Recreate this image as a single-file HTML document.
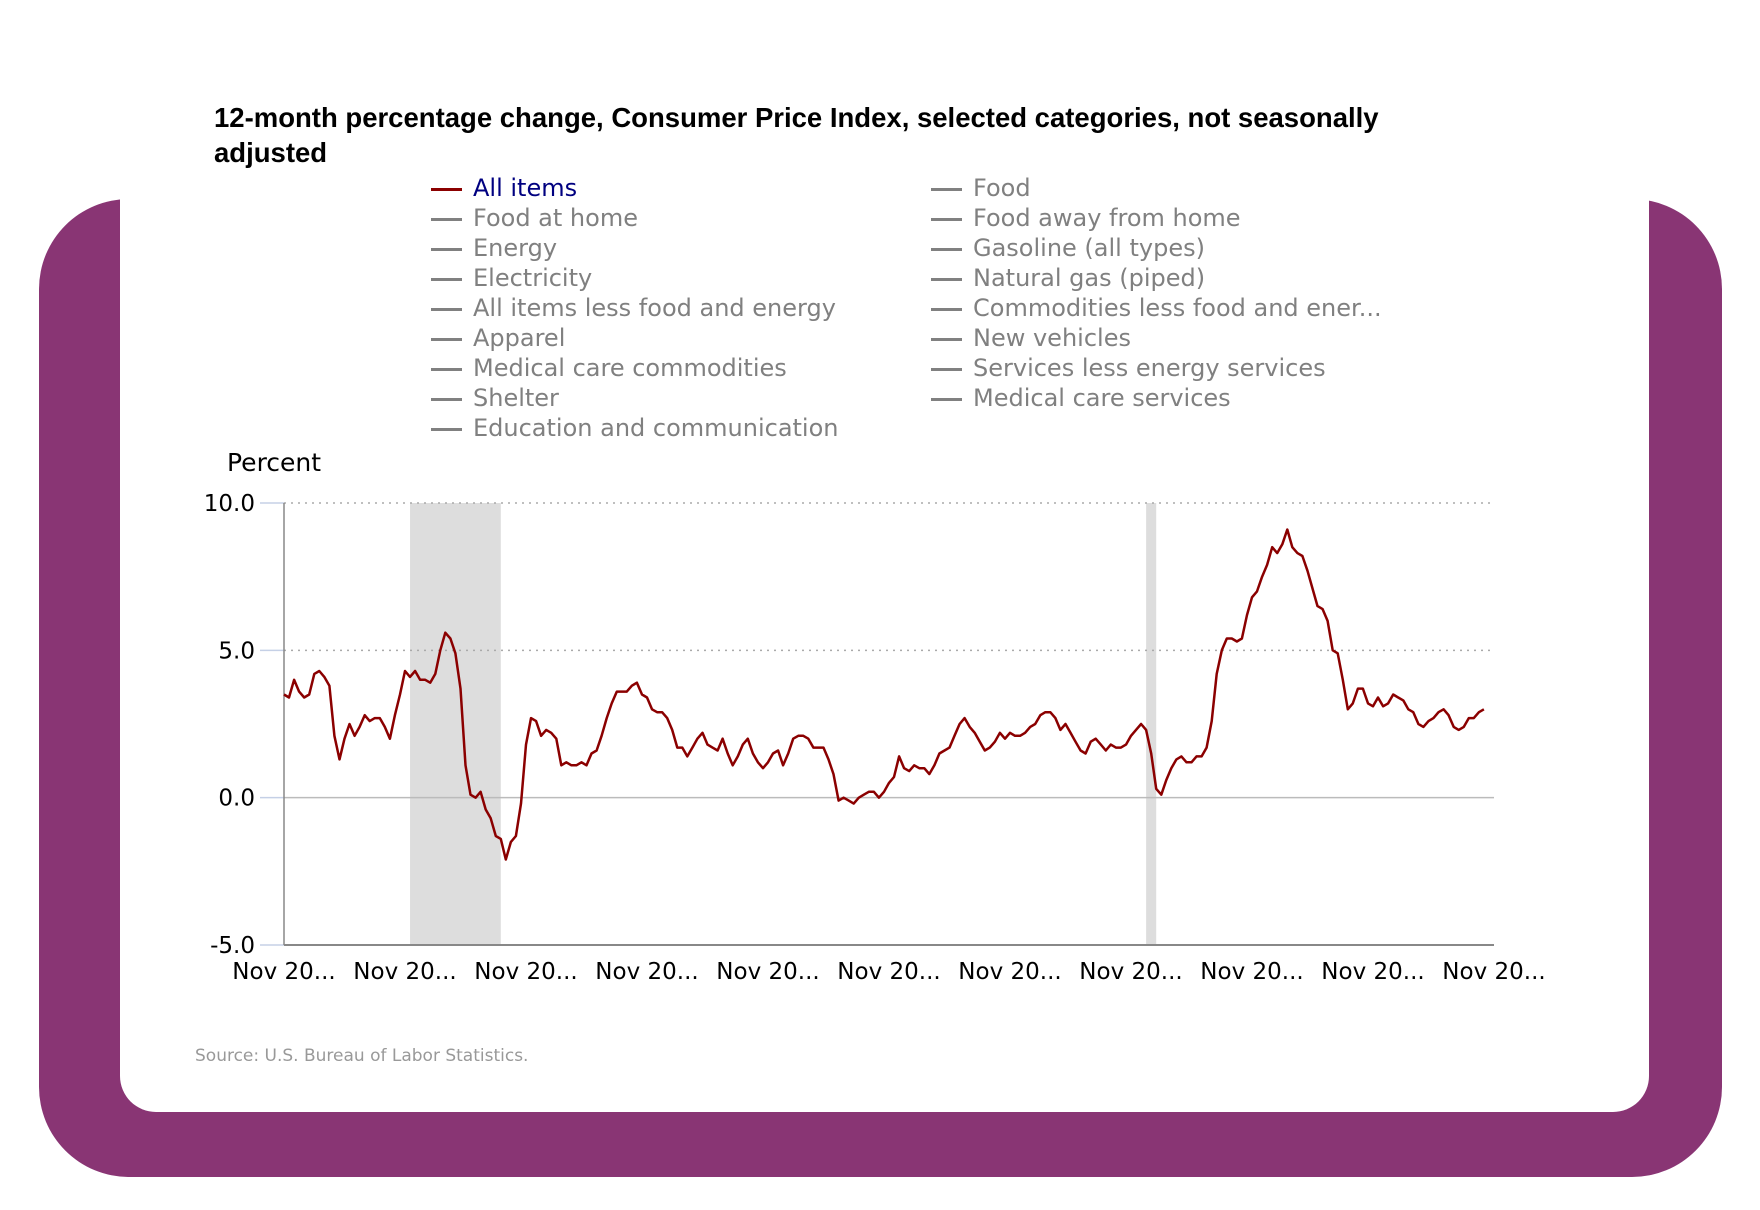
<!DOCTYPE html>
<html><head><meta charset="utf-8"><style>
body{margin:0;width:1760px;height:1210px;background:#fff;position:relative;overflow:hidden;font-family:"DejaVu Sans","Liberation Sans",sans-serif}
#purple{position:absolute;left:39px;top:199px;width:1683px;height:978px;background:#893574;border-radius:90px}
#card{position:absolute;left:120px;top:0;width:1529px;height:1112px;background:#fff;border-radius:0 0 36px 36px}
#title{position:absolute;left:214px;top:100px;width:1250px;font:bold 27.5px/35px "Liberation Sans",sans-serif;color:#000}
.leg{position:absolute;font-size:24px;color:#808080;white-space:nowrap;height:30px;line-height:30px}
.leg span.ln{display:inline-block;width:31px;height:3px;background:#808080;vertical-align:middle;margin-right:11px}
#src{position:absolute;left:195px;top:1046px;font-size:17px;color:#999}
svg{position:absolute;left:0;top:0}
</style></head><body>
<div id="purple"></div>
<div id="card"></div>
<div id="title">12-month percentage change, Consumer Price Index, selected categories, not seasonally adjusted</div>
<div id="legend"></div>
<svg id="chart" width="1760" height="1210"></svg>
<div id="src">Source: U.S. Bureau of Labor Statistics.</div>
<script>
const legendCol1 = ["All items","Food at home","Energy","Electricity","All items less food and energy","Apparel","Medical care commodities","Shelter","Education and communication"];
const legendCol2 = ["Food","Food away from home","Gasoline (all types)","Natural gas (piped)","Commodities less food and ener...","New vehicles","Services less energy services","Medical care services"];
const yTicks = [-5, 0, 5, 10];
const yTickLabels = ["-5.0","0.0","5.0","10.0"];
const xTickLabels = ["Nov 20...","Nov 20...","Nov 20...","Nov 20...","Nov 20...","Nov 20...","Nov 20...","Nov 20...","Nov 20...","Nov 20...","Nov 20..."];
const recessionsMonths = [[25,43],[171,173]];
const allItems = [3.5,3.4,
4.0,3.6,3.4,3.5,4.2,4.3,4.1,3.8,2.1,1.3,2.0,2.5,
2.1,2.4,2.8,2.6,2.7,2.7,2.4,2.0,2.8,3.5,4.3,4.1,
4.3,4.0,4.0,3.9,4.2,5.0,5.6,5.4,4.9,3.7,1.1,0.1,
0.0,0.2,-0.4,-0.7,-1.3,-1.4,-2.1,-1.5,-1.3,-0.2,1.8,2.7,
2.6,2.1,2.3,2.2,2.0,1.1,1.2,1.1,1.1,1.2,1.1,1.5,
1.6,2.1,2.7,3.2,3.6,3.6,3.6,3.8,3.9,3.5,3.4,3.0,
2.9,2.9,2.7,2.3,1.7,1.7,1.4,1.7,2.0,2.2,1.8,1.7,
1.6,2.0,1.5,1.1,1.4,1.8,2.0,1.5,1.2,1.0,1.2,1.5,
1.6,1.1,1.5,2.0,2.1,2.1,2.0,1.7,1.7,1.7,1.3,0.8,
-0.1,0.0,-0.1,-0.2,0.0,0.1,0.2,0.2,0.0,0.2,0.5,0.7,
1.4,1.0,0.9,1.1,1.0,1.0,0.8,1.1,1.5,1.6,1.7,2.1,
2.5,2.7,2.4,2.2,1.9,1.6,1.7,1.9,2.2,2.0,2.2,2.1,
2.1,2.2,2.4,2.5,2.8,2.9,2.9,2.7,2.3,2.5,2.2,1.9,
1.6,1.5,1.9,2.0,1.8,1.6,1.8,1.7,1.7,1.8,2.1,2.3,
2.5,2.3,1.5,0.3,0.1,0.6,1.0,1.3,1.4,1.2,1.2,1.4,
1.4,1.7,2.6,4.2,5.0,5.4,5.4,5.3,5.4,6.2,6.8,7.0,
7.5,7.9,8.5,8.3,8.6,9.1,8.5,8.3,8.2,7.7,7.1,6.5,
6.4,6.0,5.0,4.9,4.0,3.0,3.2,3.7,3.7,3.2,3.1,3.4,
3.1,3.2,3.5,3.4,3.3,3.0,2.9,2.5,2.4,2.6,2.7,2.9,
3.0,2.8,2.4,2.3,2.4,2.7,2.7,2.9,3.0];

const X0=284, X1=1494, Y0=945, Y1=503, MONTHS=240;
const xs = m => X0 + (X1-X0)*m/MONTHS;
const ys = v => Y0 + (Y1-Y0)*(v-(-5))/15;
const NS="http://www.w3.org/2000/svg";
const svg=document.getElementById('chart');
function mk(tag,attrs,parent){const e=document.createElementNS(NS,tag);for(const k in attrs)e.setAttribute(k,attrs[k]);(parent||svg).appendChild(e);return e;}

const leg=document.getElementById('legend');
function addLeg(txt,i,col){
  const d=document.createElement('div');d.className='leg';
  d.style.left=(col?931:431)+'px';d.style.top=(173+i*30)+'px';
  
  
  const first=(col===0&&i===0);
  d.innerHTML='<span class="ln" style="background:'+(first?'#8b0000':'#808080')+'"></span>'+txt;
  if(first)d.style.color='#000080';
  leg.appendChild(d);
}
legendCol1.forEach((t,i)=>addLeg(t,i,0));
legendCol2.forEach((t,i)=>addLeg(t,i,1));

recessionsMonths.forEach(r=>{
  const e=mk('rect',{x:xs(r[0]),y:Y1,width:xs(r[1])-xs(r[0]),height:Y0-Y1,fill:'#dddddd'});
  
  
});
yTicks.forEach((v,i)=>{
  const y=ys(v);
  if(v===5||v===10){const g=mk('line',{x1:X0,x2:X1,y1:y,y2:y,stroke:'#aaa','stroke-width':1.5,'stroke-dasharray':'2,5'});
  
  }
  if(v===0){const g=mk('line',{x1:X0,x2:X1,y1:y,y2:y,stroke:'#bbb','stroke-width':1.5});
  
  }
  const t=mk('line',{x1:X0-24,x2:X0,y1:y,y2:y,stroke:'#c5d0e6','stroke-width':1.5});
  
  
  const l=mk('text',{x:X0-29,y:y+8,'text-anchor':'end','font-size':23,fill:'#000'});
  l.textContent=yTickLabels[i];
  
  
});
const ya=mk('line',{x1:X0,x2:X0,y1:Y1,y2:Y0,stroke:'#888','stroke-width':1.5});


const xa=mk('line',{x1:X0,x2:X1,y1:Y0,y2:Y0,stroke:'#888','stroke-width':2});


xTickLabels.forEach((s,i)=>{
  const t=mk('text',{x:xs(i*24),y:979,'text-anchor':'middle','font-size':23,fill:'#000'});
  t.textContent=s;
  
  
});
const yt=mk('text',{x:227,y:471,'font-size':25,fill:'#000'});
yt.textContent='Percent';


const pts=allItems.map((v,i)=>xs(i).toFixed(1)+','+ys(v).toFixed(1)).join(' ');
const pl=mk('polyline',{points:pts,fill:'none',stroke:'#8b0000','stroke-width':2.5,'stroke-linejoin':'round'});


</script>
</body></html>
